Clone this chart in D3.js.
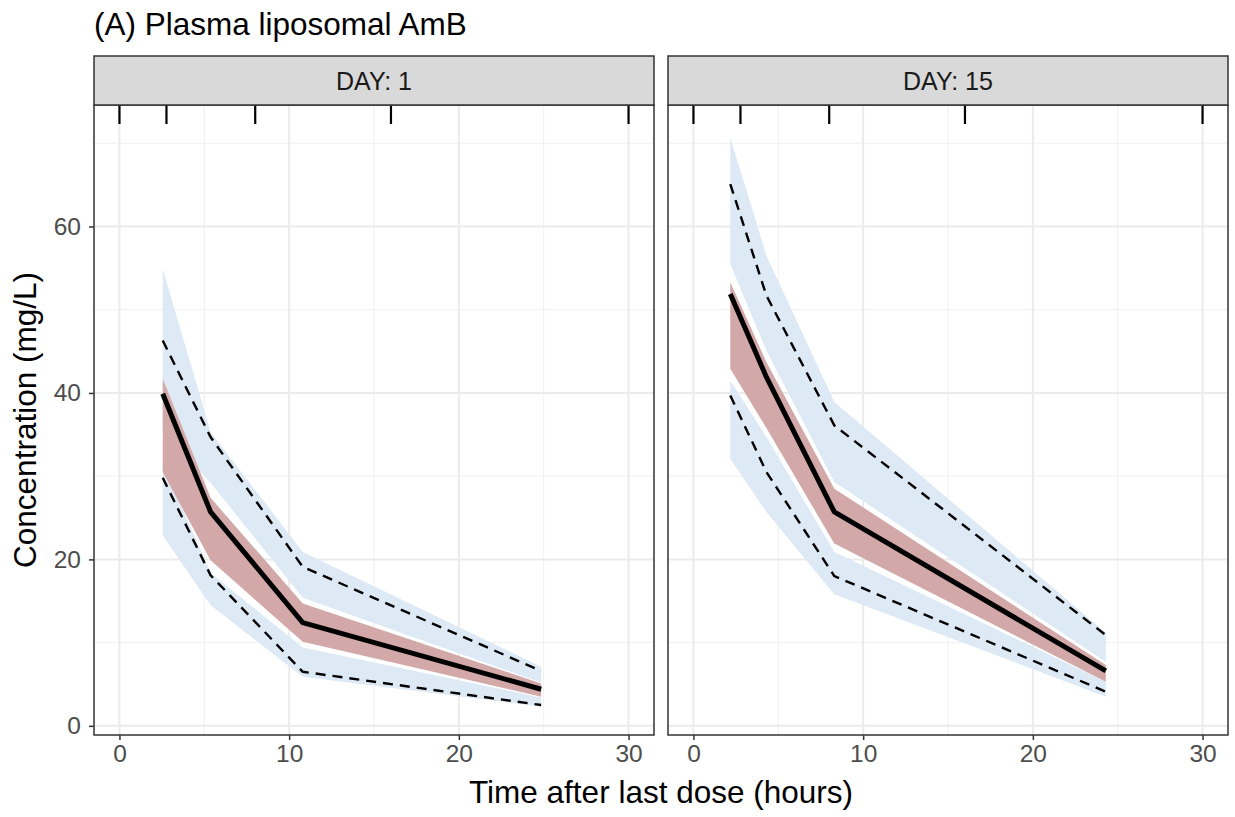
<!DOCTYPE html>
<html>
<head>
<meta charset="utf-8">
<script src="https://cdn.jsdelivr.net/npm/d3@7"></script>
<style>
  body { margin: 0; background: #fff; }
  svg { display: block; font-family: "Liberation Sans", Arial, sans-serif; }
</style>
</head>
<body>
<div id="grafica"></div>
<script>
// ==============================
// DATA
// ==============================

const dayLabels = ["DAY: 1", "DAY: 15"];
const rugTimes = [0, 2.77, 8, 16, 30];
const xTicks = [0, 10, 20, 30];
const xMinor = [5, 15, 25];
const yTicks = [0, 20, 40, 60];
const yMinor = [10, 30, 50, 70];

// DAY 1
const time1 = [2.55, 5.37, 10.8, 24.85];
const obsMedian1 = [39.9, 25.7, 12.4, 4.4];
const obsP95_1 = [46.3, 34.7, 19.1, 6.6];
const obsP05_1 = [29.8, 18.1, 6.5, 2.5];
const ciMedLo1 = [30.5, 19.9, 10.1, 3.5];
const ciMedHi1 = [41.7, 27.4, 14.7, 5.1];
const ciUpLo1 = [35.5, 29.2, 15.4, 5.2];
const ciUpHi1 = [54.9, 35.3, 20.9, 7.1];
const ciLowLo1 = [22.9, 14.5, 5.9, 2.3];
const ciLowHi1 = [31.5, 18.4, 9.4, 3.4];

// DAY 15
const time2 = [2.17, 4.3, 8.3, 24.3];
const obsMedian2 = [51.9, 41.9, 25.7, 6.6];
const obsP95_2 = [65.1, 51.7, 36.1, 10.9];
const obsP05_2 = [39.7, 30.5, 18.0, 4.1];
const ciMedLo2 = [42.9, 35.8, 21.9, 5.3];
const ciMedHi2 = [53.3, 43.7, 28.5, 7.3];
const ciUpLo2 = [55.5, 45.1, 29.3, 7.7];
const ciUpHi2 = [70.7, 56.5, 38.9, 11.2];
const ciLowLo2 = [32.1, 25.7, 15.8, 3.5];
const ciLowHi2 = [41.5, 34.7, 20.9, 5.3];

const panels = [
  { label: dayLabels[0], t: time1, med: obsMedian1, p95: obsP95_1, p05: obsP05_1,
    bands: [[ciUpLo1, ciUpHi1, "blue"], [ciLowLo1, ciLowHi1, "blue"], [ciMedLo1, ciMedHi1, "red"]] },
  { label: dayLabels[1], t: time2, med: obsMedian2, p95: obsP95_2, p05: obsP05_2,
    bands: [[ciUpLo2, ciUpHi2, "blue"], [ciLowLo2, ciLowHi2, "blue"], [ciMedLo2, ciMedHi2, "red"]] }
];

// ==============================
// SVG AND LAYOUT
// ==============================

const WIDTH = 1235, HEIGHT = 817;
const stripTop = 56, panelTop = 105, panelBottom = 735;
const panelLefts = [94, 668], panelWidth = 560;
const fill = { blue: "#dde9f5", red: "#d3a8a9" };

const svg = d3.select("#grafica").append("svg")
  .attr("width", WIDTH)
  .attr("height", HEIGHT);

const y = d3.scaleLinear().domain([-1.1, 74.6]).range([panelBottom, panelTop]);

panels.forEach((p, i) => {
  const left = panelLefts[i];
  const x = d3.scaleLinear().domain([-1.5, 31.5]).range([left, left + panelWidth]);
  const g = svg.append("g");

  // grid
  g.selectAll(".gx-minor").data(xMinor).join("line")
    .attr("x1", d => x(d)).attr("x2", d => x(d))
    .attr("y1", panelTop).attr("y2", panelBottom)
    .attr("stroke", "#f0f0f0").attr("stroke-width", 1);
  g.selectAll(".gy-minor").data(yMinor).join("line")
    .attr("x1", left).attr("x2", left + panelWidth)
    .attr("y1", d => y(d)).attr("y2", d => y(d))
    .attr("stroke", "#f0f0f0").attr("stroke-width", 1);
  g.selectAll(".gx").data(xTicks).join("line")
    .attr("x1", d => x(d)).attr("x2", d => x(d))
    .attr("y1", panelTop).attr("y2", panelBottom)
    .attr("stroke", "#ebebeb").attr("stroke-width", 2);
  g.selectAll(".gy").data(yTicks).join("line")
    .attr("x1", left).attr("x2", left + panelWidth)
    .attr("y1", d => y(d)).attr("y2", d => y(d))
    .attr("stroke", "#ebebeb").attr("stroke-width", 2);

  // ribbons
  p.bands.forEach(([lo, hi, col]) => {
    const rows = p.t.map((t, k) => ({ t, lo: lo[k], hi: hi[k] }));
    g.append("path")
      .datum(rows)
      .attr("d", d3.area().x(d => x(d.t)).y0(d => y(d.lo)).y1(d => y(d.hi)))
      .attr("fill", fill[col]);
  });

  // observed percentiles
  const line = d3.line().x(d => x(d[0])).y(d => y(d[1]));
  [p.p95, p.p05].forEach(vals => {
    g.append("path")
      .attr("d", line(p.t.map((t, k) => [t, vals[k]])))
      .attr("fill", "none").attr("stroke", "#000")
      .attr("stroke-width", 2.4).attr("stroke-dasharray", "10,7");
  });
  g.append("path")
    .attr("d", line(p.t.map((t, k) => [t, p.med[k]])))
    .attr("fill", "none").attr("stroke", "#000")
    .attr("stroke-width", 5).attr("stroke-linejoin", "round");

  // rug at top
  g.selectAll(".rug").data(rugTimes).join("line")
    .attr("x1", d => x(d)).attr("x2", d => x(d))
    .attr("y1", panelTop).attr("y2", panelTop + 19)
    .attr("stroke", "#000").attr("stroke-width", 2.2);

  // border + strip
  g.append("rect")
    .attr("x", left).attr("y", panelTop).attr("width", panelWidth).attr("height", panelBottom - panelTop)
    .attr("fill", "none").attr("stroke", "#333").attr("stroke-width", 1.5);
  g.append("rect")
    .attr("x", left).attr("y", stripTop).attr("width", panelWidth).attr("height", panelTop - stripTop)
    .attr("fill", "#d9d9d9").attr("stroke", "#333").attr("stroke-width", 1.5);
  g.append("text")
    .attr("x", left + panelWidth / 2).attr("y", (stripTop + panelTop) / 2)
    .attr("dy", "0.36em").attr("text-anchor", "middle")
    .attr("font-size", 25).attr("fill", "#1a1a1a")
    .text(p.label);

  // x axis
  const ax = g.append("g")
    .attr("transform", `translate(0,${panelBottom})`)
    .call(d3.axisBottom(x).tickValues(xTicks).tickSize(5).tickPadding(5));
  ax.select(".domain").remove();
  ax.selectAll("line").attr("stroke", "#333").attr("stroke-width", 1.5);
  ax.selectAll("text").attr("font-size", 24.5).attr("fill", "#4d4d4d").attr("font-family", null);

  // y axis only on first panel
  if (i === 0) {
    const ay = g.append("g")
      .attr("transform", `translate(${left},0)`)
      .call(d3.axisLeft(y).tickValues(yTicks).tickSize(5).tickPadding(8));
    ay.select(".domain").remove();
    ay.selectAll("line").attr("stroke", "#333").attr("stroke-width", 1.5);
    ay.selectAll("text").attr("font-size", 24.5).attr("fill", "#4d4d4d").attr("font-family", null);
  }
});

// ==============================
// TITLES
// ==============================

svg.append("text")
  .attr("x", 94).attr("y", 35)
  .attr("font-size", 31.5).attr("fill", "#000")
  .text("(A) Plasma liposomal AmB");

svg.append("text")
  .attr("x", (panelLefts[0] + panelLefts[1] + panelWidth) / 2).attr("y", 803)
  .attr("text-anchor", "middle").attr("font-size", 31.5).attr("fill", "#000")
  .text("Time after last dose (hours)");

svg.append("text")
  .attr("transform", `translate(36,${(panelTop + panelBottom) / 2}) rotate(-90)`)
  .attr("text-anchor", "middle").attr("font-size", 31.5).attr("fill", "#000")
  .text("Concentration (mg/L)");
</script>
</body>
</html>
